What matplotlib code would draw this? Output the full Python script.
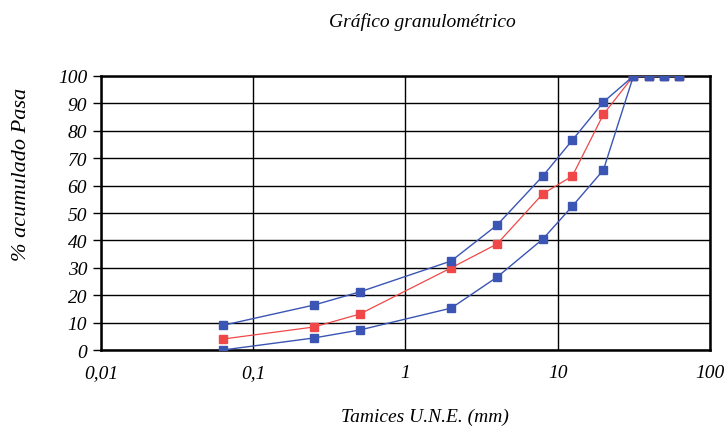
import numpy as np
import matplotlib.pyplot as plt
from matplotlib.ticker import FixedLocator, NullLocator

# Tamices UNE (mm) y % acumulado que pasa
tamices = [0.063, 0.25, 0.5, 2, 4, 8, 12.5, 20, 31.5, 40, 50, 63]
huso_sup = [9, 16.4, 21.2, 32.5, 45.6, 63.5, 76.6, 90.5, 100, 100, 100, 100]
muestra = [4, 8.4, 13.1, 30, 38.7, 57, 63.5, 86, 100, 100, 100, 100]
huso_inf = [0, 4.4, 7.3, 15.3, 26.6, 40.5, 52.5, 65.7, 100, 100, 100, 100]

x_ticks = [0.01, 0.1, 1, 10, 100]
x_labels = ["0,01", "0,1", "1", "10", "100"]
y_ticks = list(range(0, 101, 10))

plt.rcParams["font.family"] = ["Liberation Serif", "DejaVu Serif"]
plt.rcParams["font.style"] = "italic"

azul = "#3a55b4"
rojo = "#f04848"

fig = plt.figure(figsize=(7.28, 4.35), dpi=100)
ax = fig.add_axes([0.1387, 0.193, 0.8363, 0.630])

ax.plot(tamices, muestra, color=rojo, lw=0.9, marker="s", ms=5.5, zorder=3)
ax.plot(tamices, huso_inf, color=azul, lw=1.0, marker="s", ms=5.5, zorder=4)
ax.plot(tamices, huso_sup, color=azul, lw=1.0, marker="s", ms=5.5, zorder=4)

ax.set_xscale("log")
ax.set_xlim(0.01, 100)
ax.set_ylim(0, 100)
ax.xaxis.set_major_locator(FixedLocator(x_ticks))
ax.xaxis.set_minor_locator(NullLocator())
ax.set_xticklabels(x_labels)
ax.set_yticks(y_ticks)

ax.grid(True, which="major", color="black", lw=1.0)
for s in ax.spines.values():
    s.set_linewidth(1.8)
ax.tick_params(axis="y", direction="out", length=6, width=1.0, labelsize=14, pad=4)
ax.tick_params(axis="x", direction="out", length=0, labelsize=14, pad=10)

fig.text(0.03, 0.598, "% acumulado Pasa", fontsize=16, rotation=90,
         ha="center", va="center")
fig.text(0.58, 0.95, "Gráfico granulométrico", fontsize=14, ha="center", va="center")
fig.text(0.584, 0.04, "Tamices U.N.E. (mm)", fontsize=14, ha="center", va="center")

plt.savefig("out.png", dpi=100)
